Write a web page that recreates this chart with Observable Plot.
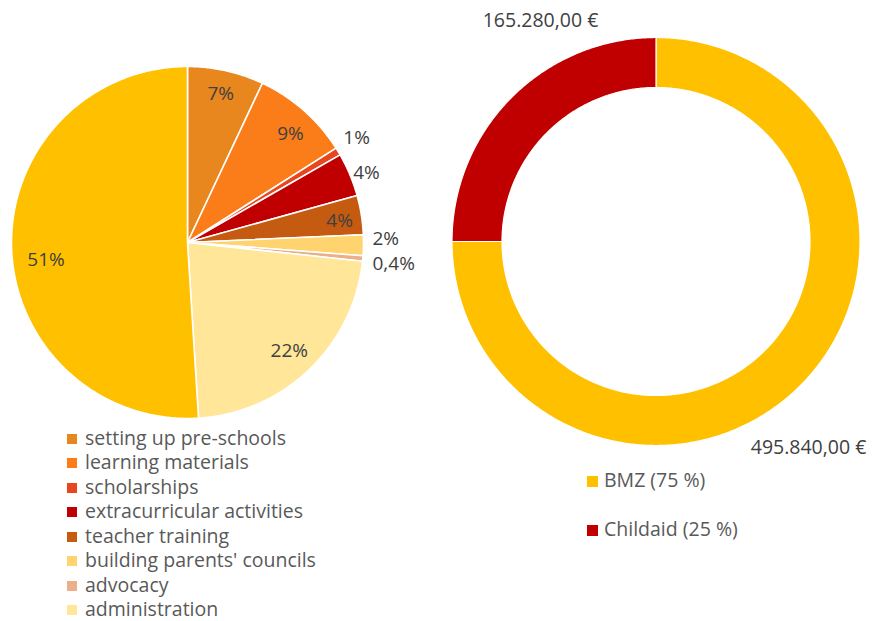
<!DOCTYPE html>
<html><head><meta charset="utf-8">
<script src="https://cdn.jsdelivr.net/npm/d3@7"></script>
<script src="https://cdn.jsdelivr.net/npm/@observablehq/plot@0.6"></script>
<style>
body{margin:0;background:#fff;}
#wrap{position:relative;width:884px;height:621px;overflow:hidden;font-family:"Open Sans",Lato,sans-serif;background:#fff;}
.plot{position:absolute;top:0;}
.lg{position:absolute;white-space:nowrap;color:#595959;font-size:19.5px;line-height:18px;}
.sq{position:absolute;}
</style></head>
<body><div id="wrap"></div>
<script>
// ---------- data ----------
const pieCategories = ["setting up pre-schools","learning materials","scholarships","extracurricular activities","teacher training","building parents' councils","advocacy","administration","other"];
const pieValues = [7.0, 9.0, 0.7, 4.0, 3.6, 1.9, 0.5, 22.3, 51.0];
const pieLabels = ["7%","9%","1%","4%","4%","2%","0,4%","22%","51%"];
const pieLabelInside = [true,true,false,false,true,false,false,true,true];
const pieColors = ["#E8871E","#FB7D1A","#E8461E","#C00000","#C55A11","#FFD36E","#EBB08A","#FFE699","#FFC000"];
const legendCategories = pieCategories.slice(0, 8);
// label placement tweaks (degrees, radii)
const pieLabelNudge = [0, 2, -2.6, 0, 0.8, -2.1, 1.3, 0.5, -5.2];
const pieLabelDist = [0.867, 0.852, 1.065, 1.02, 0.873, 1.051, 1.058, 0.844, 0.81];

const donutCategories = ["BMZ","Childaid"];
const donutValues = [495840, 165280];
const donutLabels = ["495.840,00 €","165.280,00 €"];
const donutLegend = ["BMZ (75 %)","Childaid (25 %)"];
const donutColors = ["#FFC000","#C00000"];
const donutLabelNudge = [8.5, 17.4];   // degrees
const donutLabelDist = [1.257, 1.222]; // in outer radii

// ---------- geometry helpers ----------
const FONT = '"Open Sans", Lato, sans-serif';
const DEG = Math.PI / 180;
function arcPts(a0, a1, r) {
  const n = Math.max(2, Math.ceil((a1 - a0) / (Math.PI / 360)));
  return d3.range(n + 1).map(i => { const a = a0 + (a1 - a0) * i / n; return [r * Math.sin(a), r * Math.cos(a)]; });
}
const pieGen = d3.pie().sort(null).value(d => d.value);

// ---------- left pie ----------
const pieData = pieCategories.map((c, i) => ({category: c, value: pieValues[i], label: pieLabels[i], inside: pieLabelInside[i], i}));
const pieArcs = pieGen(pieData);
const piePts = [];
pieArcs.forEach(a => {
  const pts = [[0, 0], ...arcPts(a.startAngle, a.endAngle, 1), [0, 0]];
  pts.forEach(p => piePts.push({category: a.data.category, x: p[0], y: p[1]}));
});
const pieLab = pieArcs.map(a => {
  const i = a.data.i;
  const m = (a.startAngle + a.endAngle) / 2 + pieLabelNudge[i] * DEG, r = pieLabelDist[i];
  return {x: r * Math.sin(m), y: r * Math.cos(m), text: a.data.label, inside: a.data.inside};
});
const L = {W: 440, H: 432, cx: 187, cy: 242, R: 176};
const leftPlot = Plot.plot({
  width: L.W, height: L.H, margin: 0,
  x: {domain: [-L.cx / L.R, (L.W - L.cx) / L.R], axis: null},
  y: {domain: [-(L.H - L.cy) / L.R, L.cy / L.R], axis: null},
  color: {domain: pieCategories, range: pieColors},
  style: {fontFamily: FONT, background: "transparent"},
  marks: [
    Plot.line(piePts, {x: "x", y: "y", z: "category", fill: "category", stroke: "white", strokeWidth: 1.6, strokeLinejoin: "round"}),
    Plot.text(pieLab.filter(d => d.inside), {x: "x", y: "y", text: "text", fontSize: 19, fill: "#404040", textAnchor: "middle"}),
    Plot.text(pieLab.filter(d => !d.inside), {x: "x", y: "y", text: "text", fontSize: 19, fill: "#404040", textAnchor: "start"})
  ]
});

// ---------- right donut ----------
const donutData = donutCategories.map((c, i) => ({category: c, value: donutValues[i], label: donutLabels[i], i}));
const donutArcs = pieGen(donutData);
const innerR = 154 / 204;
const donutPts = [];
donutArcs.forEach(a => {
  const outer = arcPts(a.startAngle, a.endAngle, 1);
  const inner = arcPts(a.startAngle, a.endAngle, innerR).reverse();
  const pts = [...outer, ...inner, outer[0]];
  pts.forEach(p => donutPts.push({category: a.data.category, x: p[0], y: p[1]}));
});
const donutLab = donutArcs.map(a => {
  const m = (a.startAngle + a.endAngle) / 2 + donutLabelNudge[a.data.i] * DEG;
  const r = donutLabelDist[a.data.i];
  return {x: r * Math.sin(m), y: r * Math.cos(m), text: a.data.label};
});
const RT = {W: 444, H: 470, cx: 215.5, cy: 241, R: 204};
const rightPlot = Plot.plot({
  width: RT.W, height: RT.H, margin: 0,
  x: {domain: [-RT.cx / RT.R, (RT.W - RT.cx) / RT.R], axis: null},
  y: {domain: [-(RT.H - RT.cy) / RT.R, RT.cy / RT.R], axis: null},
  color: {domain: donutCategories, range: donutColors},
  style: {fontFamily: FONT, background: "transparent"},
  marks: [
    Plot.line(donutPts, {x: "x", y: "y", z: "category", fill: "category", stroke: "white", strokeWidth: 1.2, strokeLinejoin: "round"}),
    Plot.text(donutLab, {x: "x", y: "y", text: "text", fontSize: 19.5, fill: "#404040", textAnchor: "middle"})
  ]
});

// ---------- assemble ----------
const wrap = document.getElementById("wrap");
leftPlot.classList.add("plot"); leftPlot.style.left = "0px";
rightPlot.classList.add("plot"); rightPlot.style.left = "440px";
wrap.appendChild(leftPlot); wrap.appendChild(rightPlot);

function legendItem(x, yc, size, color, text, textX) {
  const sq = document.createElement("div");
  sq.className = "sq";
  Object.assign(sq.style, {left: x + "px", top: (yc - size / 2) + "px", width: size + "px", height: size + "px", background: color});
  const t = document.createElement("div");
  t.className = "lg";
  Object.assign(t.style, {left: textX + "px", top: (yc - 10) + "px"});
  t.textContent = text;
  wrap.appendChild(sq); wrap.appendChild(t);
}
legendCategories.forEach((c, i) => legendItem(67, 438.5 + i * 24.5, 10, pieColors[i], c, 85));
donutLegend.forEach((c, i) => legendItem(587, 481 + i * 49, 11, donutColors[i], c, 604));
</script></body></html>
